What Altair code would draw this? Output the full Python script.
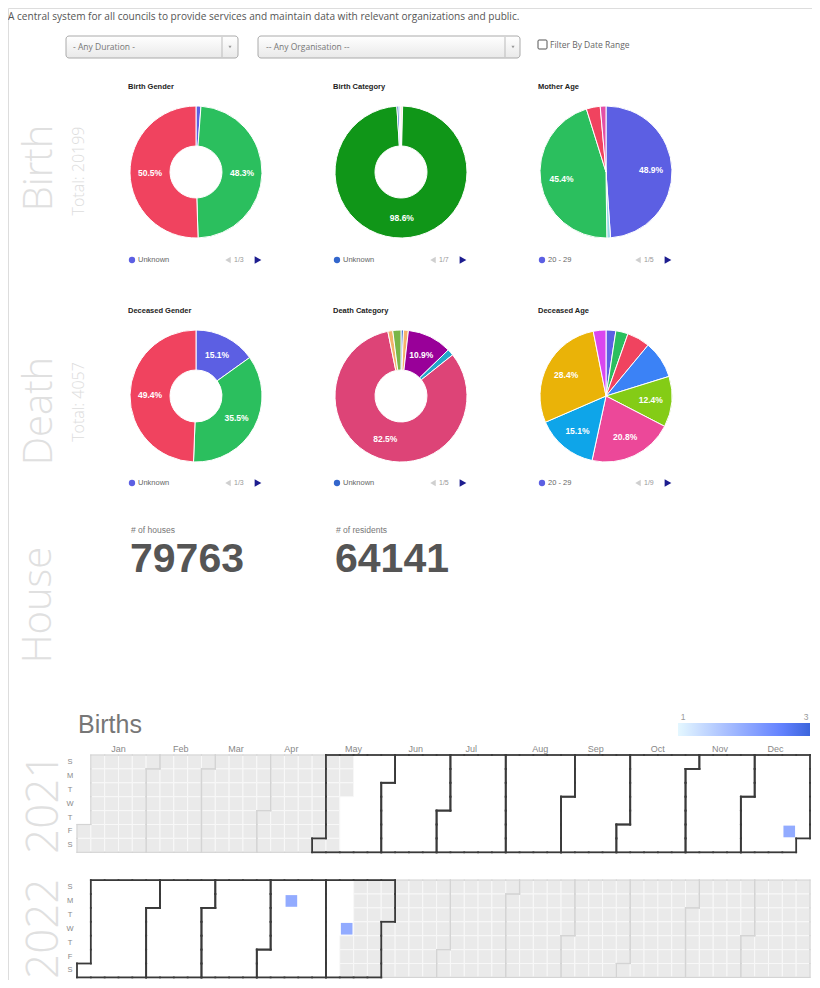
import altair as alt
import pandas as pd

# ---------------- data ----------------
intro = "A central system for all councils to provide services and maintain data with relevant organizations and public."
duration_choice = "- Any Duration -"
org_choice = "-- Any Organisation --"
filter_label = "Filter By Date Range"

birth_total = 20199
death_total = 4057

birth_gender_names = ["Unknown", "Male", "Female"]
birth_gender_vals = [1.2, 48.3, 50.5]

birth_cat_names = ["Twins", "Single", "Unknown", "Triplets", "Other"]
birth_cat_vals = [0.4, 98.6, 0.5, 0.3, 0.2]

mother_age_names = ["20 - 29", "Unknown", "30 - 39", "Under 20", "40 - 49"]
mother_age_vals = [48.9, 0.9, 45.4, 3.4, 1.4]

death_gender_names = ["Unknown", "Male", "Female"]
death_gender_vals = [15.1, 35.5, 49.4]

death_cat_names = ["Unknown", "Accident", "Illness", "Suicide", "Natural", "Homicide", "Other"]
death_cat_vals = [0.6, 1.2, 10.9, 1.6, 82.5, 1.2, 2.0]

death_age_names = ["20 - 29", "30 - 39", "40 - 49", "50 - 59", "60 - 69",
                   "70 - 79", "80 - 89", "90 - 99", "0 - 19"]
death_age_vals = [2.4, 3.0, 5.6, 9.2, 12.4, 20.8, 15.1, 28.4, 3.1]

birth_titles = ["Birth Gender", "Birth Category", "Mother Age"]
death_titles = ["Deceased Gender", "Death Category", "Deceased Age"]
birth_legend = ["Unknown", "Unknown", "20 - 29"]
death_legend = ["Unknown", "Unknown", "20 - 29"]
birth_pages = ["1/3", "1/7", "1/5"]
death_pages = ["1/3", "1/5", "1/9"]

houses = 79763
residents = 64141

cal_title = "Births"
cal_years = [2021, 2022]
window_start = "2021-05-12"
window_end = "2022-05-11"
birth_dates = ["2021-12-24", "2022-04-11", "2022-05-11"]
birth_counts = [2, 2, 2]
count_range = [1, 3]
day_letters = ["S", "M", "T", "W", "T", "F", "S"]
month_names = ["Jan", "Feb", "Mar", "Apr", "May", "Jun",
               "Jul", "Aug", "Sep", "Oct", "Nov", "Dec"]

# ---------------- styles ----------------
VIOLET, GREEN, RED = "#5c5fe3", "#2bbf5e", "#f0435f"
gender_colors = [VIOLET, GREEN, RED]
birth_cat_colors = ["#f5b08a", "#109618", "#3366cc", "#4fc3e8", "#f0d6e2"]
mother_age_colors = [VIOLET, "#9ad7e8", GREEN, RED, "#e44fa6"]
death_cat_colors = ["#3366cc", "#f6b26b", "#990099", "#22a7c9", "#dd4477", "#f2b36b", "#7ab648"]
death_age_colors = [VIOLET, GREEN, RED, "#3b82f6", "#84cc16", "#ec4899", "#0ea5e9", "#eab308", "#d946ef"]

SANS = "Liberation Sans"
LIGHT = "Open Sans"
OX, OY = 8, 8


def px(x):
    return x - OX


def py(y):
    return y - OY


one = pd.DataFrame({"k": [0]})
layers = []


def txt(s, x, y, size, color, weight="normal", align="left", baseline="middle", angle=None, font=SANS):
    props = dict(fontSize=size, color=color, fontWeight=weight, align=align, baseline=baseline, font=font)
    if angle is not None:
        props["angle"] = angle
    return alt.Chart(one).mark_text(**props).encode(
        x=alt.value(px(x)), y=alt.value(py(y)), text=alt.value(s))


def box(x1, y1, x2, y2, fill, stroke, sw=1, r=0):
    return alt.Chart(one).mark_rect(fill=fill, stroke=stroke, strokeWidth=sw, cornerRadius=r).encode(
        x=alt.value(px(x1)), x2=alt.value(px(x2)), y=alt.value(py(y1)), y2=alt.value(py(y2)))


def vline(x, y1, y2, color, sw=1):
    return alt.Chart(one).mark_rule(color=color, strokeWidth=sw).encode(
        x=alt.value(px(x)), y=alt.value(py(y1)), y2=alt.value(py(y2)))


def point(x, y, shape, size, color):
    return alt.Chart(one).mark_point(shape=shape, filled=True, size=size, color=color, opacity=1).encode(
        x=alt.value(px(x)), y=alt.value(py(y)))


# ---------------- header ----------------
grad = alt.LinearGradient(gradient="linear",
                          stops=[alt.GradientStop(color="#ffffff", offset=0),
                                 alt.GradientStop(color="#e9e9e9", offset=1)],
                          x1=0, x2=0, y1=0, y2=1)
layers.append(txt(intro, 8, 17, 10.1, "#555", font=LIGHT))
layers.append(box(66, 36, 238, 58, grad, "#aaaaaa", 1, 3))
layers.append(vline(222, 37, 57, "#bbbbbb"))
layers.append(point(230, 47, "triangle-down", 10, "#999"))
layers.append(txt(duration_choice, 73, 47, 8.5, "#777", font=LIGHT))
layers.append(box(258, 36, 520, 58, grad, "#aaaaaa", 1, 3))
layers.append(vline(505, 37, 57, "#bbbbbb"))
layers.append(point(513, 47, "triangle-down", 10, "#999"))
layers.append(txt(org_choice, 266, 47, 8.5, "#777", font=LIGHT))
layers.append(box(538, 40, 547, 49, "#ffffff", "#555555", 1, 1))
layers.append(txt(filter_label, 550, 45, 8.5, "#666", font=LIGHT))


# ---------------- pies ----------------
def pie(names, vals, colors, cx, cy, inner):
    df = pd.DataFrame({"c": names, "v": vals, "i": list(range(len(names)))})
    df["lab"] = [f"{v:.1f}%" if v >= 10 else "" for v in vals]
    base = alt.Chart(df).encode(theta=alt.Theta("v:Q", stack=True), order=alt.Order("i:Q"))
    arc = base.mark_arc(outerRadius=66, innerRadius=inner, stroke="white", strokeWidth=1).encode(
        x=alt.value(px(cx)), y=alt.value(py(cy)),
        color=alt.Color("c:N", scale=alt.Scale(domain=names, range=colors), legend=None))
    lab = base.mark_text(radius=46 if inner else 45, fontSize=8.5, fontWeight="bold",
                         color="white", font=SANS).encode(
        x=alt.value(px(cx)), y=alt.value(py(cy)), text="lab:N")
    return [arc, lab]


def pie_block(title, names, vals, colors, cx, cy, inner, leg, page, title_y, leg_y):
    out = [txt(title, cx - 68, title_y, 7.5, "#222", weight="bold", baseline="alphabetic")]
    out += pie(names, vals, colors, cx, cy, inner)
    out.append(alt.Chart(one).mark_circle(size=40, color=colors[names.index(leg)], opacity=1).encode(
        x=alt.value(px(cx - 64)), y=alt.value(py(leg_y))))
    out.append(txt(leg, cx - 58, leg_y, 7.5, "#666"))
    out.append(point(cx + 32, leg_y, "triangle-left", 40, "#cfcfcf"))
    out.append(txt(page, cx + 38, leg_y, 7, "#999"))
    out.append(point(cx + 62, leg_y, "triangle-right", 60, "#1d1d8f"))
    return out


CX = [196, 401, 606]
BY, DY = 172, 396
birth_sets = [(birth_gender_names, birth_gender_vals, gender_colors, 26),
              (birth_cat_names, birth_cat_vals, birth_cat_colors, 26),
              (mother_age_names, mother_age_vals, mother_age_colors, 0)]
death_sets = [(death_gender_names, death_gender_vals, gender_colors, 26),
              (death_cat_names, death_cat_vals, death_cat_colors, 26),
              (death_age_names, death_age_vals, death_age_colors, 0)]
for k in range(3):
    n, v, c, inner = birth_sets[k]
    layers += pie_block(birth_titles[k], n, v, c, CX[k], BY, inner, birth_legend[k], birth_pages[k], 89, 260)
    n, v, c, inner = death_sets[k]
    layers += pie_block(death_titles[k], n, v, c, CX[k], DY, inner, death_legend[k], death_pages[k], 313, 483)

# side labels
layers.append(txt("Birth", 40, 168, 40, "#e0e0e0", weight=300, align="center", angle=270, font=LIGHT))
layers.append(txt(f"Total: {birth_total}", 79, 171, 16, "#dddddd", weight=300, align="center", angle=270, font=LIGHT))
layers.append(txt("Death", 40, 411, 40, "#e0e0e0", weight=300, align="center", angle=270, font=LIGHT))
layers.append(txt(f"Total: {death_total}", 79, 402, 16, "#dddddd", weight=300, align="center", angle=270, font=LIGHT))
layers.append(txt("House", 39, 605, 40, "#e0e0e0", weight=300, align="center", angle=270, font=LIGHT))

# house figures
layers.append(txt("# of houses", 131, 533, 8.5, "#777", baseline="alphabetic"))
layers.append(txt(str(houses), 130, 572, 41, "#555", weight="bold", baseline="alphabetic"))
layers.append(txt("# of residents", 336, 533, 8.5, "#777", baseline="alphabetic"))
layers.append(txt(str(residents), 335, 572, 41, "#555", weight="bold", baseline="alphabetic"))

# ---------------- calendar ----------------
ROWGAP = 9
CELL = 13.9
X0, X1 = 77, 810
Y0 = 755
xs = alt.Scale(domain=[0, 53], range=[px(X0), px(X1)], nice=False, zero=False)
ys = alt.Scale(domain=[0, 16], range=[py(Y0), py(Y0) + 16 * CELL], nice=False, zero=False)

frames = []
for yi, yr in enumerate(cal_years):
    d = pd.date_range(f"{yr}-01-01", f"{yr}-12-31", freq="D")
    f = pd.DataFrame({"date": d})
    f["dow"] = (f["date"].dt.weekday + 1) % 7
    off = int(f["dow"].iloc[0])
    f["wk"] = (f["date"].dt.dayofyear - 1 + off) // 7
    f["m"] = f["date"].dt.month
    f["yr"] = yr
    f["row"] = f["dow"] + ROWGAP * yi
    frames.append(f)
cal = pd.concat(frames, ignore_index=True)
cal["inwin"] = (cal["date"] >= pd.Timestamp(window_start)) & (cal["date"] <= pd.Timestamp(window_end))
cal["wk1"] = cal["wk"] + 1
cal["row1"] = cal["row"] + 1

gray_cells = cal.loc[~cal["inwin"], ["wk", "wk1", "row", "row1"]]
layers.append(alt.Chart(gray_cells).mark_rect(fill="#eaeaea", stroke="#f8f8f8", strokeWidth=1).encode(
    x=alt.X("wk:Q", scale=xs, axis=None), x2="wk1:Q",
    y=alt.Y("row:Q", scale=ys, axis=None), y2="row1:Q"))

seg_rows = []
for yi, yr in enumerate(cal_years):
    f = cal[cal["yr"] == yr]
    cell = {(int(w), int(dw)): int(m) for w, dw, m in zip(f["wk"], f["dow"], f["m"])}
    dark = set(int(m) for m in f.loc[f["inwin"], "m"])
    b = ROWGAP * yi
    for (w, dw), m in cell.items():
        nbrs = [((w, dw - 1), (w, dw, w + 1, dw)),
                ((w, dw + 1), (w, dw + 1, w + 1, dw + 1)),
                ((w - 1, dw), (w, dw, w, dw + 1)),
                ((w + 1, dw), (w + 1, dw, w + 1, dw + 1))]
        for key, (a, c1, c2, e) in nbrs:
            if cell.get(key) != m:
                seg_rows.append({"x": a, "y": c1 + b, "x2": c2, "y2": e + b, "dark": m in dark})
seg = pd.DataFrame(seg_rows)
for is_dark, col, sw in [(False, "#d4d4d4", 1.2), (True, "#3a3a3a", 1.8)]:
    s = seg[seg["dark"] == is_dark][["x", "y", "x2", "y2"]]
    layers.append(alt.Chart(s).mark_rule(color=col, strokeWidth=sw, strokeCap="square").encode(
        x=alt.X("x:Q", scale=xs, axis=None), x2="x2:Q",
        y=alt.Y("y:Q", scale=ys, axis=None), y2="y2:Q"))

marks = cal.set_index(cal["date"].dt.strftime("%Y-%m-%d")).loc[birth_dates, ["wk", "row"]].reset_index(drop=True)
marks["n"] = birth_counts
marks["xa"] = marks["wk"] + 0.08
marks["xb"] = marks["wk"] + 0.92
marks["ya"] = marks["row"] + 0.08
marks["yb"] = marks["row"] + 0.92
layers.append(alt.Chart(marks).mark_rect().encode(
    x=alt.X("xa:Q", scale=xs, axis=None), x2="xb:Q",
    y=alt.Y("ya:Q", scale=ys, axis=None), y2="yb:Q",
    color=alt.Color("n:Q", scale=alt.Scale(domain=count_range, range=["#ffffff", "#3b65dc"]),
                    legend=alt.Legend(orient="none", legendX=px(678), legendY=py(723),
                                      direction="horizontal", gradientLength=132,
                                      gradientThickness=13, title=None, labelOpacity=0,
                                      gradientStrokeWidth=0))))
layers.append(txt(str(count_range[0]), 683, 717, 8.5, "#999", align="center"))
layers.append(txt(str(count_range[1]), 806, 717, 8.5, "#999", align="center"))

# day letters
for yi, yr in enumerate(cal_years):
    dl = pd.DataFrame({"t": day_letters, "r": [i + 0.5 + ROWGAP * yi for i in range(7)]})
    layers.append(alt.Chart(dl).mark_text(fontSize=7.5, color="#888", font=SANS).encode(
        x=alt.value(px(70)), y=alt.Y("r:Q", scale=ys, axis=None), text="t:N"))

# month labels
first = cal[cal["yr"] == cal_years[0]]
ml = first.groupby("m")["wk"].agg(["min", "max"]).reset_index()
ml["xc"] = (ml["min"] + ml["max"]) / 2 + 0.5
ml["name"] = [month_names[m - 1] for m in ml["m"]]
layers.append(alt.Chart(ml).mark_text(fontSize=9, color="#888", font=SANS, baseline="alphabetic").encode(
    x=alt.X("xc:Q", scale=xs, axis=None), y=alt.value(py(752)), text="name:N"))

layers.append(txt(cal_title, 78, 733, 25, "#777", baseline="alphabetic"))
for yi, yr in enumerate(cal_years):
    layers.append(txt(str(yr), 45, Y0 + (ROWGAP * yi + 3.5) * CELL, 44, "#e0e0e0",
                      weight=300, align="center", angle=270, font=LIGHT))

chart = alt.layer(*layers).resolve_scale(
    x="independent", y="independent", theta="independent", color="independent"
).properties(
    width=804, height=972, padding=0, autosize=alt.AutoSizeParams(type="none")
).configure_view(stroke=None, strokeWidth=0).configure(background="white")

chart.save("out.html", embed_options={"renderer": "svg", "actions": False})
